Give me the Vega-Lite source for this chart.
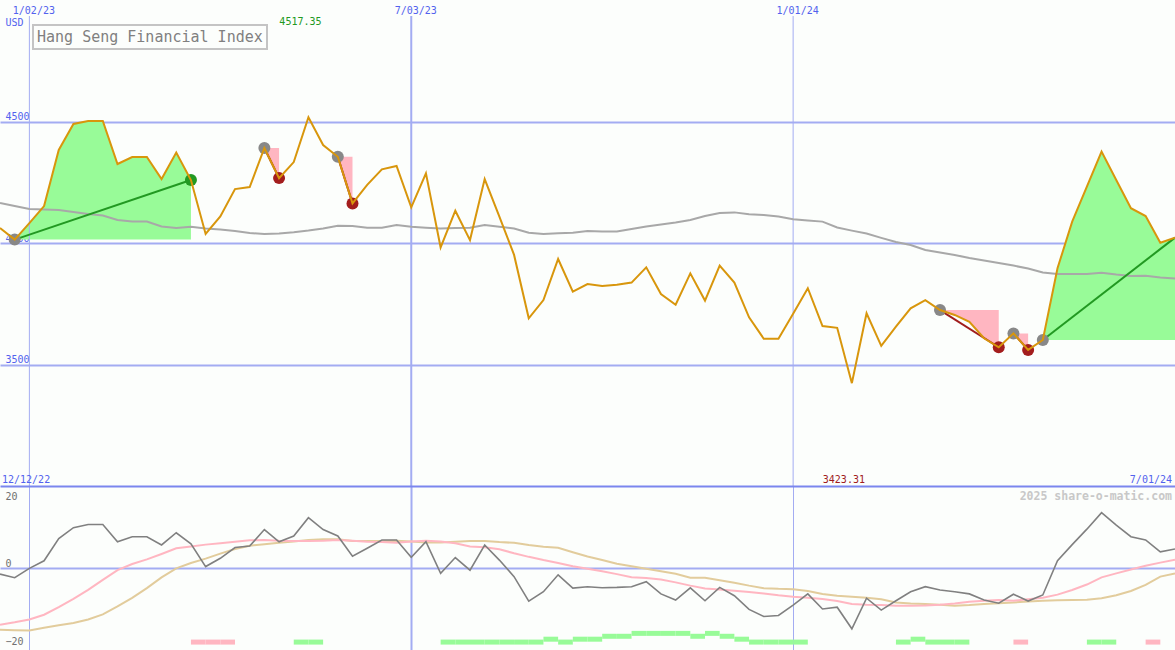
{
"$schema": "https://vega.github.io/schema/vega-lite/v6.json",
"padding": 0,
"background": "#fcfefc",
"spacing": 0,
"bounds": "flush",
"config": {"view": {"stroke": null}, "axis": {"labelFont": "DejaVu Sans Mono", "titleFont": "DejaVu Sans Mono"}, "text": {"font": "DejaVu Sans Mono"}, "legend": {"labelFont": "DejaVu Sans Mono", "strokeWidth": 2}},
"datasets": {
"series": [
{"d":"2022-12-19","p":4062,"ma":4165,"o":-1.7,"s":-15.8,"t":-17.2},
{"d":"2022-12-26","p":4014,"ma":4152,"o":-2.7,"s":-15.1,"t":-17.3},
{"d":"2023-01-02","p":4082,"ma":4140,"o":-0.1,"s":-14.3,"t":-17.4},
{"d":"2023-01-09","p":4152,"ma":4138,"o":2.0,"s":-13.0,"t":-16.6},
{"d":"2023-01-16","p":4383,"ma":4136,"o":8.2,"s":-10.9,"t":-15.9},
{"d":"2023-01-23","p":4490,"ma":4128,"o":11.2,"s":-8.6,"t":-15.3},
{"d":"2023-01-30","p":4502,"ma":4119,"o":12.1,"s":-6.1,"t":-14.3},
{"d":"2023-02-06","p":4502,"ma":4113,"o":12.1,"s":-3.3,"t":-12.9},
{"d":"2023-02-13","p":4325,"ma":4095,"o":7.3,"s":-0.6,"t":-10.7},
{"d":"2023-02-20","p":4354,"ma":4088,"o":8.7,"s":1.1,"t":-8.3},
{"d":"2023-02-27","p":4354,"ma":4088,"o":8.7,"s":2.4,"t":-5.6},
{"d":"2023-03-06","p":4263,"ma":4068,"o":6.4,"s":3.9,"t":-2.6},
{"d":"2023-03-13","p":4372,"ma":4062,"o":9.8,"s":5.5,"t":-0.1},
{"d":"2023-03-20","p":4259,"ma":4067,"o":6.7,"s":6.0,"t":1.4},
{"d":"2023-03-27","p":4037,"ma":4060,"o":0.4,"s":6.5,"t":2.6},
{"d":"2023-04-03","p":4109,"ma":4056,"o":2.7,"s":6.9,"t":4.0},
{"d":"2023-04-10","p":4222,"ma":4049,"o":5.7,"s":7.3,"t":5.3},
{"d":"2023-04-17","p":4230,"ma":4041,"o":6.1,"s":7.7,"t":6.2},
{"d":"2023-04-24","p":4391,"ma":4037,"o":10.7,"s":7.8,"t":6.6},
{"d":"2023-05-01","p":4267,"ma":4039,"o":7.3,"s":7.6,"t":7.0},
{"d":"2023-05-08","p":4333,"ma":4044,"o":8.9,"s":7.5,"t":7.4},
{"d":"2023-05-15","p":4517.35,"ma":4051,"o":14.0,"s":7.5,"t":7.8},
{"d":"2023-05-22","p":4403,"ma":4060,"o":10.7,"s":7.6,"t":8.0},
{"d":"2023-05-29","p":4355,"ma":4071,"o":8.9,"s":7.8,"t":8.0},
{"d":"2023-06-05","p":4163,"ma":4070,"o":3.3,"s":7.6,"t":7.5},
{"d":"2023-06-12","p":4239,"ma":4063,"o":5.5,"s":7.3,"t":7.5},
{"d":"2023-06-19","p":4303,"ma":4063,"o":7.8,"s":7.2,"t":7.5},
{"d":"2023-06-26","p":4317,"ma":4074,"o":7.8,"s":7.0,"t":7.6},
{"d":"2023-07-03","p":4147,"ma":4067,"o":3.0,"s":7.4,"t":7.4},
{"d":"2023-07-10","p":4287,"ma":4063,"o":7.3,"s":7.6,"t":7.1},
{"d":"2023-07-17","p":3982,"ma":4060,"o":-1.5,"s":7.4,"t":7.1},
{"d":"2023-07-24","p":4133,"ma":4062,"o":2.9,"s":6.9,"t":7.3},
{"d":"2023-07-31","p":4012,"ma":4063,"o":-0.6,"s":6.0,"t":7.5},
{"d":"2023-08-07","p":4263,"ma":4074,"o":6.4,"s":5.8,"t":7.5},
{"d":"2023-08-14","p":4109,"ma":4067,"o":2.2,"s":5.2,"t":7.2},
{"d":"2023-08-21","p":3951,"ma":4060,"o":-2.4,"s":4.1,"t":7.0},
{"d":"2023-08-28","p":3690,"ma":4042,"o":-9.2,"s":3.1,"t":6.4},
{"d":"2023-09-04","p":3765,"ma":4037,"o":-6.6,"s":2.2,"t":5.9},
{"d":"2023-09-11","p":3934,"ma":4040,"o":-1.9,"s":1.4,"t":5.6},
{"d":"2023-09-18","p":3800,"ma":4042,"o":-5.6,"s":0.5,"t":4.4},
{"d":"2023-09-25","p":3831,"ma":4049,"o":-5.2,"s":-0.2,"t":3.2},
{"d":"2023-10-02","p":3823,"ma":4047,"o":-5.5,"s":-0.9,"t":2.2},
{"d":"2023-10-09","p":3828,"ma":4047,"o":-5.4,"s":-1.7,"t":1.2},
{"d":"2023-10-16","p":3837,"ma":4058,"o":-5.2,"s":-2.6,"t":0.5},
{"d":"2023-10-23","p":3900,"ma":4068,"o":-3.8,"s":-2.8,"t":-0.2},
{"d":"2023-10-30","p":3790,"ma":4076,"o":-7.2,"s":-3.2,"t":-0.9},
{"d":"2023-11-06","p":3746,"ma":4084,"o":-8.9,"s":-4.0,"t":-1.6},
{"d":"2023-11-13","p":3875,"ma":4095,"o":-5.5,"s":-4.9,"t":-2.7},
{"d":"2023-11-20","p":3763,"ma":4111,"o":-9.1,"s":-5.7,"t":-2.7},
{"d":"2023-11-27","p":3907,"ma":4123,"o":-5.4,"s":-6.0,"t":-3.4},
{"d":"2023-12-04","p":3837,"ma":4126,"o":-7.7,"s":-6.3,"t":-4.1},
{"d":"2023-12-11","p":3694,"ma":4118,"o":-11.5,"s":-6.7,"t":-4.9},
{"d":"2023-12-18","p":3606,"ma":4115,"o":-13.5,"s":-7.1,"t":-5.6},
{"d":"2023-12-25","p":3606,"ma":4109,"o":-13.2,"s":-7.6,"t":-5.8},
{"d":"2024-01-01","p":3709,"ma":4098,"o":-10.3,"s":-8.0,"t":-5.9},
{"d":"2024-01-08","p":3814,"ma":4093,"o":-7.2,"s":-8.3,"t":-6.4},
{"d":"2024-01-15","p":3658,"ma":4088,"o":-11.4,"s":-8.6,"t":-7.2},
{"d":"2024-01-22","p":3651,"ma":4064,"o":-10.9,"s":-9.2,"t":-7.7},
{"d":"2024-01-29","p":3423.31,"ma":4051,"o":-16.9,"s":-10.0,"t":-8.0},
{"d":"2024-02-05","p":3711,"ma":4039,"o":-8.4,"s":-10.2,"t":-8.3},
{"d":"2024-02-12","p":3577,"ma":4021,"o":-11.7,"s":-10.3,"t":-8.7},
{"d":"2024-02-19","p":3656,"ma":4004,"o":-9.1,"s":-10.5,"t":-9.6},
{"d":"2024-02-26","p":3731,"ma":3992,"o":-6.6,"s":-10.5,"t":-9.9},
{"d":"2024-03-04","p":3765,"ma":3971,"o":-5.2,"s":-10.4,"t":-10.0},
{"d":"2024-03-11","p":3724,"ma":3961,"o":-6.1,"s":-10.2,"t":-10.2},
{"d":"2024-03-18","p":3704,"ma":3951,"o":-6.6,"s":-9.9,"t":-10.5},
{"d":"2024-03-25","p":3676,"ma":3938,"o":-7.2,"s":-9.4,"t":-10.3},
{"d":"2024-04-01","p":3608,"ma":3928,"o":-8.9,"s":-9.1,"t":-10.0},
{"d":"2024-04-08","p":3571,"ma":3918,"o":-9.8,"s":-8.9,"t":-9.8},
{"d":"2024-04-15","p":3628,"ma":3907,"o":-7.3,"s":-9.1,"t":-9.6},
{"d":"2024-04-22","p":3560,"ma":3895,"o":-9.2,"s":-8.7,"t":-9.3},
{"d":"2024-04-29","p":3601,"ma":3879,"o":-7.5,"s":-8.3,"t":-9.1},
{"d":"2024-05-06","p":3896,"ma":3872,"o":2.0,"s":-7.4,"t":-9.0},
{"d":"2024-05-13","p":4088,"ma":3872,"o":6.5,"s":-6.1,"t":-8.9},
{"d":"2024-05-20","p":4232,"ma":3872,"o":10.8,"s":-4.6,"t":-8.8},
{"d":"2024-05-27","p":4376,"ma":3878,"o":15.4,"s":-2.6,"t":-8.4},
{"d":"2024-06-03","p":4259,"ma":3870,"o":11.9,"s":-1.5,"t":-7.6},
{"d":"2024-06-10","p":4143,"ma":3864,"o":8.7,"s":-0.4,"t":-6.4},
{"d":"2024-06-17","p":4111,"ma":3865,"o":7.8,"s":0.6,"t":-4.7},
{"d":"2024-06-24","p":4001,"ma":3858,"o":4.5,"s":1.5,"t":-2.4},
{"d":"2024-07-01","p":4022,"ma":3854,"o":5.3,"s":2.3,"t":-1.5}
],
"zones": [
{"seg":"A","k":"up","d":"2022-12-26","p":4014,"base":4014},
{"seg":"A","k":"up","d":"2023-01-02","p":4082,"base":4014},
{"seg":"A","k":"up","d":"2023-01-09","p":4152,"base":4014},
{"seg":"A","k":"up","d":"2023-01-16","p":4383,"base":4014},
{"seg":"A","k":"up","d":"2023-01-23","p":4490,"base":4014},
{"seg":"A","k":"up","d":"2023-01-30","p":4502,"base":4014},
{"seg":"A","k":"up","d":"2023-02-06","p":4502,"base":4014},
{"seg":"A","k":"up","d":"2023-02-13","p":4325,"base":4014},
{"seg":"A","k":"up","d":"2023-02-20","p":4354,"base":4014},
{"seg":"A","k":"up","d":"2023-02-27","p":4354,"base":4014},
{"seg":"A","k":"up","d":"2023-03-06","p":4263,"base":4014},
{"seg":"A","k":"up","d":"2023-03-13","p":4372,"base":4014},
{"seg":"A","k":"up","d":"2023-03-20","p":4259,"base":4014},
{"seg":"B","k":"dn","d":"2023-04-24","p":4391,"base":4391},
{"seg":"B","k":"dn","d":"2023-05-01","p":4267,"base":4391},
{"seg":"C","k":"dn","d":"2023-05-29","p":4355,"base":4355},
{"seg":"C","k":"dn","d":"2023-06-05","p":4163,"base":4355},
{"seg":"D","k":"dn","d":"2024-03-11","p":3724,"base":3724},
{"seg":"D","k":"dn","d":"2024-03-18","p":3704,"base":3724},
{"seg":"D","k":"dn","d":"2024-03-25","p":3676,"base":3724},
{"seg":"D","k":"dn","d":"2024-04-01","p":3608,"base":3724},
{"seg":"D","k":"dn","d":"2024-04-08","p":3571,"base":3724},
{"seg":"E","k":"dn","d":"2024-04-15","p":3628,"base":3628},
{"seg":"E","k":"dn","d":"2024-04-22","p":3560,"base":3628},
{"seg":"F","k":"up","d":"2024-04-29","p":3601,"base":3601},
{"seg":"F","k":"up","d":"2024-05-06","p":3896,"base":3601},
{"seg":"F","k":"up","d":"2024-05-13","p":4088,"base":3601},
{"seg":"F","k":"up","d":"2024-05-20","p":4232,"base":3601},
{"seg":"F","k":"up","d":"2024-05-27","p":4376,"base":3601},
{"seg":"F","k":"up","d":"2024-06-03","p":4259,"base":3601},
{"seg":"F","k":"up","d":"2024-06-10","p":4143,"base":3601},
{"seg":"F","k":"up","d":"2024-06-17","p":4111,"base":3601},
{"seg":"F","k":"up","d":"2024-06-24","p":4001,"base":3601},
{"seg":"F","k":"up","d":"2024-07-01","p":4022,"base":3601}
],
"trend": [
{"seg":"A","k":"up","d":"2022-12-26","v":4014},
{"seg":"A","k":"up","d":"2023-03-20","v":4259},
{"seg":"B","k":"dn","d":"2023-04-24","v":4391},
{"seg":"B","k":"dn","d":"2023-05-01","v":4267},
{"seg":"C","k":"dn","d":"2023-05-29","v":4355},
{"seg":"C","k":"dn","d":"2023-06-05","v":4163},
{"seg":"D","k":"dn","d":"2024-03-11","v":3724},
{"seg":"D","k":"dn","d":"2024-04-08","v":3571},
{"seg":"E","k":"dn","d":"2024-04-15","v":3628},
{"seg":"E","k":"dn","d":"2024-04-22","v":3560},
{"seg":"F","k":"up","d":"2024-04-29","v":3601},
{"seg":"F","k":"up","d":"2024-07-01","v":4022}
],
"dots": [
{"k":"start","d":"2022-12-26","v":4014},
{"k":"start","d":"2023-04-24","v":4391},
{"k":"start","d":"2023-05-29","v":4355},
{"k":"start","d":"2024-03-11","v":3724},
{"k":"start","d":"2024-04-15","v":3628},
{"k":"start","d":"2024-04-29","v":3601},
{"k":"up","d":"2023-03-20","v":4259},
{"k":"dn","d":"2023-05-01","v":4267},
{"k":"dn","d":"2023-06-05","v":4163},
{"k":"dn","d":"2024-04-08","v":3571},
{"k":"dn","d":"2024-04-22","v":3560}
],
"bars": [
{"d":"2023-03-20","d2":"2023-03-27","h":1,"k":"dn"},
{"d":"2023-03-27","d2":"2023-04-03","h":1,"k":"dn"},
{"d":"2023-04-03","d2":"2023-04-10","h":1,"k":"dn"},
{"d":"2023-05-08","d2":"2023-05-15","h":1,"k":"up"},
{"d":"2023-05-15","d2":"2023-05-22","h":1,"k":"up"},
{"d":"2023-07-17","d2":"2023-07-24","h":1,"k":"up"},
{"d":"2023-07-24","d2":"2023-07-31","h":1,"k":"up"},
{"d":"2023-07-31","d2":"2023-08-07","h":1,"k":"up"},
{"d":"2023-08-07","d2":"2023-08-14","h":1,"k":"up"},
{"d":"2023-08-14","d2":"2023-08-21","h":1,"k":"up"},
{"d":"2023-08-21","d2":"2023-08-28","h":1,"k":"up"},
{"d":"2023-08-28","d2":"2023-09-04","h":1,"k":"up"},
{"d":"2023-09-04","d2":"2023-09-11","h":2,"k":"up"},
{"d":"2023-09-11","d2":"2023-09-18","h":1,"k":"up"},
{"d":"2023-09-18","d2":"2023-09-25","h":2,"k":"up"},
{"d":"2023-09-25","d2":"2023-10-02","h":2,"k":"up"},
{"d":"2023-10-02","d2":"2023-10-09","h":3,"k":"up"},
{"d":"2023-10-09","d2":"2023-10-16","h":3,"k":"up"},
{"d":"2023-10-16","d2":"2023-10-23","h":4,"k":"up"},
{"d":"2023-10-23","d2":"2023-10-30","h":4,"k":"up"},
{"d":"2023-10-30","d2":"2023-11-06","h":4,"k":"up"},
{"d":"2023-11-06","d2":"2023-11-13","h":4,"k":"up"},
{"d":"2023-11-13","d2":"2023-11-20","h":3,"k":"up"},
{"d":"2023-11-20","d2":"2023-11-27","h":4,"k":"up"},
{"d":"2023-11-27","d2":"2023-12-04","h":3,"k":"up"},
{"d":"2023-12-04","d2":"2023-12-11","h":2,"k":"up"},
{"d":"2023-12-11","d2":"2023-12-18","h":1,"k":"up"},
{"d":"2023-12-18","d2":"2023-12-25","h":1,"k":"up"},
{"d":"2023-12-25","d2":"2024-01-01","h":1,"k":"up"},
{"d":"2024-01-01","d2":"2024-01-08","h":1,"k":"up"},
{"d":"2024-02-19","d2":"2024-02-26","h":1,"k":"up"},
{"d":"2024-02-26","d2":"2024-03-04","h":2,"k":"up"},
{"d":"2024-03-04","d2":"2024-03-11","h":1,"k":"up"},
{"d":"2024-03-11","d2":"2024-03-18","h":1,"k":"up"},
{"d":"2024-03-18","d2":"2024-03-25","h":1,"k":"up"},
{"d":"2024-04-15","d2":"2024-04-22","h":1,"k":"dn"},
{"d":"2024-05-20","d2":"2024-05-27","h":1,"k":"up"},
{"d":"2024-05-27","d2":"2024-06-03","h":1,"k":"up"},
{"d":"2024-06-17","d2":"2024-06-24","h":1,"k":"dn"}
]
},
"vconcat": [
{
"width": 1175,
"height": 486,
"resolve": {"scale": {"color": "independent"}},
"encoding": {"x": {"field": "d", "type": "temporal", "scale": {"type": "utc", "domain": [1671408000000, 1719792000000]},
  "axis": {"orient": "top", "values": [1672617600000, 1688342400000, 1704067200000], "labelExpr": "utcFormat(datum.value, '%-m/%d/%y')", "labelPadding": -13, "labelOffset": 4, "labelBaseline": "alphabetic", "labelAlign": "center", "labelColor": "#5262ee", "labelFontSize": 10, "labelFlush": false, "labelOverlap": false, "ticks": false, "tickSize": 0, "domain": false, "grid": false, "title": null}}},
"layer": [
{"data": {"name": "zones"}, "mark": {"type": "area", "clip": true, "opacity": 1},
 "encoding": {"y": {"field": "p", "type": "quantitative", "stack": null, "scale": {"domain": [3000, 5000], "nice": false, "zero": false}},
  "y2": {"field": "base"},
  "color": {"field": "k", "type": "nominal", "scale": {"domain": ["up", "dn"], "range": ["#98fb98", "#ffb6c1"]}, "legend": null},
  "detail": {"field": "seg"}}},
{"data": {"values": [{"d": "2023-01-02"}, {"d": "2023-07-03"}, {"d": "2024-01-01"}]},
 "mark": {"type": "rule", "color": "#a3acf2"},
 "encoding": {"y": {"datum": 4934, "type": "quantitative", "scale": {"domain": [3000, 5000], "nice": false, "zero": false}}, "y2": {"datum": 3000},
  "strokeWidth": {"condition": {"test": "utcmonth(datum.d) === 6", "value": 2}, "value": 1}}},
{"data": {"name": "series"}, "mark": {"type": "line", "color": "#a8a8a8", "strokeWidth": 2, "clip": true},
 "encoding": {"y": {"field": "ma", "type": "quantitative", "scale": {"domain": [3000, 5000], "nice": false, "zero": false}}}},
{"data": {"name": "trend"}, "mark": {"type": "line", "strokeWidth": 2, "clip": true},
 "encoding": {"y": {"field": "v", "type": "quantitative", "scale": {"domain": [3000, 5000], "nice": false, "zero": false}},
  "color": {"field": "k", "type": "nominal", "scale": {"domain": ["up", "dn"], "range": ["#229922", "#a01c1c"]}, "legend": null},
  "detail": {"field": "seg"}}},
{"data": {"name": "dots"}, "mark": {"type": "point", "filled": true, "size": 144, "opacity": 1},
 "encoding": {"y": {"field": "v", "type": "quantitative", "scale": {"domain": [3000, 5000], "nice": false, "zero": false}},
  "color": {"field": "k", "type": "nominal", "scale": {"domain": ["start", "up", "dn"], "range": ["#888888", "#229922", "#a31d1d"]}, "legend": null}}},
{"data": {"name": "series"}, "mark": {"type": "line", "strokeWidth": 2, "clip": true},
 "encoding": {"y": {"field": "p", "type": "quantitative", "scale": {"domain": [3000, 5000], "nice": false, "zero": false},
   "axis": {"title": "USD", "titleX": 5, "titleY": 25, "titleAngle": 0, "titleAlign": "left", "titleBaseline": "alphabetic", "titleFontSize": 10, "titleFontWeight": "normal", "titleColor": "#5262ee", "values": [3500, 4000, 4500], "format": "d", "labelAlign": "left", "labelBaseline": "alphabetic", "labelPadding": -5, "labelOffset": -2, "labelColor": "#5262ee", "labelFontSize": 10, "ticks": false, "tickSize": 0, "domain": false, "grid": true, "gridColor": "#a3acf2", "gridWidth": 2}},
  "color": {"datum": "Hang Seng Financial Index", "scale": {"range": ["#d8960c"]},
   "legend": {"orient": "none", "legendX": 33, "legendY": 25, "title": null, "labelFontSize": 15, "labelColor": "#808080", "labelLimit": 500, "symbolSize": 0.01, "symbolStrokeWidth": 0, "symbolOpacity": 0, "labelOffset": -15, "strokeColor": "#c4c4c4", "padding": 4}}}},
{"data": {"values": [{"d": "2023-05-15", "t": "4517.35"}]}, "mark": {"type": "text", "align": "center", "baseline": "alphabetic", "dx": -8, "dy": 25, "fontSize": 10, "color": "#229922"},
 "encoding": {"y": {"datum": 5000, "type": "quantitative", "scale": {"domain": [3000, 5000], "nice": false, "zero": false}}, "text": {"field": "t"}}},
{"data": {"values": [{"d": "2024-01-29", "t": "3423.31"}]}, "mark": {"type": "text", "align": "center", "baseline": "alphabetic", "dx": -8, "dy": -3, "fontSize": 10, "color": "#a01c1c"},
 "encoding": {"y": {"datum": 3000, "type": "quantitative", "scale": {"domain": [3000, 5000], "nice": false, "zero": false}}, "text": {"field": "t"}}},
{"data": {"values": [{"d": "2022-12-19", "t": "12/12/22"}]}, "mark": {"type": "text", "align": "left", "baseline": "alphabetic", "dx": 2, "dy": -3, "fontSize": 10, "color": "#5262ee"},
 "encoding": {"y": {"datum": 3000, "type": "quantitative", "scale": {"domain": [3000, 5000], "nice": false, "zero": false}}, "text": {"field": "t"}}},
{"data": {"values": [{"d": "2024-07-01", "t": "7/01/24"}]}, "mark": {"type": "text", "align": "right", "baseline": "alphabetic", "dx": -3, "dy": -3, "fontSize": 10, "color": "#5262ee"},
 "encoding": {"y": {"datum": 3000, "type": "quantitative", "scale": {"domain": [3000, 5000], "nice": false, "zero": false}}, "text": {"field": "t"}}}
]
},
{
"width": 1175,
"height": 164,
"resolve": {"scale": {"y": "independent"}},
"encoding": {"x": {"field": "d", "type": "temporal", "scale": {"type": "utc", "domain": [1671408000000, 1719792000000]},
  "axis": {"orient": "top", "values": [1672617600000, 1688342400000, 1704067200000], "labels": false, "ticks": false, "tickSize": 0, "domain": true, "domainColor": "#7b86ee", "domainWidth": 2, "grid": true, "gridColor": "#a3acf2", "gridWidth": {"condition": {"test": "utcmonth(datum.value) === 6", "value": 2}, "value": 1}, "title": null}}},
"layer": [
{"data": {"name": "bars", "format": {"parse": {"d": "date", "d2": "date"}}}, "mark": {"type": "bar", "clip": true},
 "encoding": {"x2": {"field": "d2"},
  "y": {"field": "h", "type": "quantitative", "scale": {"domain": [0, 53], "nice": false}, "axis": null},
  "color": {"field": "k", "type": "nominal", "scale": {"domain": ["up", "dn"], "range": ["#98fb98", "#ffb6c1"]}, "legend": null}}},
{"layer": [
 {"data": {"name": "series"}, "mark": {"type": "line", "color": "#e2cc9c", "strokeWidth": 2, "clip": true},
  "encoding": {"y": {"field": "t", "type": "quantitative", "scale": {"domain": [-22.8, 22.8], "nice": false, "zero": false}}}},
 {"data": {"name": "series"}, "mark": {"type": "line", "color": "#ffb6c1", "strokeWidth": 2, "clip": true},
  "encoding": {"y": {"field": "s", "type": "quantitative", "scale": {"domain": [-22.8, 22.8], "nice": false, "zero": false}}}},
 {"data": {"name": "series"}, "mark": {"type": "line", "color": "#808080", "strokeWidth": 1.6, "clip": true},
  "encoding": {"y": {"field": "o", "type": "quantitative", "scale": {"domain": [-22.8, 22.8], "nice": false, "zero": false},
   "axis": {"values": [20, 0, -20], "title": null, "labelAlign": "left", "labelPadding": -5,
    "labelBaseline": {"condition": {"test": "datum.value === 0", "value": "bottom"}, "value": "middle"},
    "labelOffset": {"condition": {"test": "datum.value === -20", "value": 2}, "value": 0},
    "labelColor": "#707070", "labelFontSize": 10, "ticks": false, "tickSize": 0, "domain": false,
    "grid": true, "gridColor": "#a3acf2", "gridWidth": 2,
    "gridOpacity": {"condition": {"test": "datum.value === 0", "value": 1}, "value": 0}}}}},
 {"data": {"values": [{"d": "2024-07-01", "t": "2025 share-o-matic.com"}]}, "mark": {"type": "text", "align": "right", "baseline": "alphabetic", "dx": -3, "dy": 14, "fontSize": 11.5, "fontWeight": "bold", "color": "#c8c8c8"},
  "encoding": {"y": {"datum": 22.8, "type": "quantitative", "scale": {"domain": [-22.8, 22.8], "nice": false, "zero": false}}, "text": {"field": "t"}}}
]}
]
}
]
}
